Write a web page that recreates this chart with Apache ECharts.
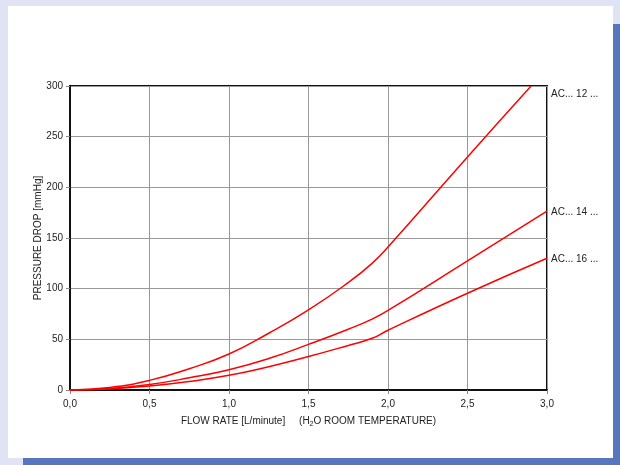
<!DOCTYPE html>
<html>
<head>
<meta charset="utf-8">
<script src="https://cdn.jsdelivr.net/npm/echarts@6/dist/echarts.min.js"></script>
<style>
  html, body { margin: 0; padding: 0; background: #dfe3f3; }
  #card {
    position: absolute; left: 8px; top: 6px; width: 605px; height: 452px;
    background: #fff; box-shadow: 15px 18px 0 #5677bd;
  }
  #chart { position: absolute; left: 0; top: 0; width: 620px; height: 465px; }
</style>
</head>
<body>
<div id="card"></div>
<div id="chart"></div>
<script>
// flow rate [L/minute]
const flowRate = [0, 0.25, 0.5, 0.75, 1.0, 1.25, 1.5, 1.75, 1.9, 2.0, 2.5, 3.0]
const flowRate12 = [0, 0.25, 0.5, 0.75, 1.0, 1.25, 1.5, 1.75, 1.9, 2.0, 2.5, 2.9]

// pressure drop [mmHg]
const drop12 = [0, 2.5, 9.5, 21, 35.5, 56, 79, 106, 125, 141, 230, 300]
const drop14 = [0, 1.5, 5.5, 12, 20, 31, 45, 60, 70, 78.5, 127.5, 176.5]
const drop16 = [0, 1, 4, 8.5, 14.5, 23, 33, 44, 51, 59, 95.5, 130]

const seriesNames = ['AC... 12 ...', 'AC... 14 ...', 'AC... 16 ...']

const font = 'Liberation Sans, Arial, sans-serif'
const pairs = (xs, ys) => xs.map((x, i) => [x, ys[i]])

const lineSeries = (name, data, labelOffset) => ({
  name,
  type: 'line',
  data,
  smooth: true,
  symbol: 'none',
  lineStyle: {color: '#ff0000', width: 1.5},
  itemStyle: {color: '#ff0000'},
  endLabel: {
    show: true,
    formatter: '{a}',
    distance: 4,
    offset: labelOffset,
    color: '#222',
    fontSize: 10,
    fontFamily: font
  }
})

const chart = echarts.init(document.getElementById('chart'))
chart.setOption({
  animation: false,
  textStyle: {fontFamily: font},
  grid: {
    left: 70, top: 86, right: 73, bottom: 75,
    show: true, borderColor: '#111', borderWidth: 2
  },
  xAxis: {
    type: 'value',
    min: 0, max: 3, interval: 0.5,
    name: 'FLOW RATE [L/minute]     (H{sub|2}O ROOM TEMPERATURE)',
    nameLocation: 'middle',
    nameGap: 25,
    nameTextStyle: {
      color: '#222', fontSize: 10, fontFamily: font,
      rich: {sub: {fontSize: 7, color: '#222', fontFamily: font, padding: [6, 0, 0, 0]}}
    },
    axisLine: {lineStyle: {color: '#111', width: 2}},
    axisTick: {show: true, length: 4, lineStyle: {color: '#888'}},
    axisLabel: {
      color: '#222', fontSize: 10, margin: 9,
      formatter: v => v.toFixed(1).replace('.', ',')
    },
    splitLine: {show: true, lineStyle: {color: '#999', width: 1}}
  },
  yAxis: {
    type: 'value',
    min: 0, max: 300, interval: 50,
    name: 'PRESSURE DROP [mmHg]',
    nameLocation: 'middle',
    nameGap: 27,
    nameMoveOverlap: false,
    nameTextStyle: {color: '#222', fontSize: 10, fontFamily: font},
    axisLine: {show: true, lineStyle: {color: '#111', width: 2}},
    axisTick: {show: true, length: 4, lineStyle: {color: '#888'}},
    axisLabel: {color: '#222', fontSize: 10, margin: 7},
    splitLine: {show: true, lineStyle: {color: '#999', width: 1}}
  },
  series: [
    lineSeries(seriesNames[0], pairs(flowRate12, drop12), [16, 8]),
    lineSeries(seriesNames[1], pairs(flowRate, drop14), [0, 1]),
    lineSeries(seriesNames[2], pairs(flowRate, drop16), [0, 1])
  ]
})
</script>
</body>
</html>
